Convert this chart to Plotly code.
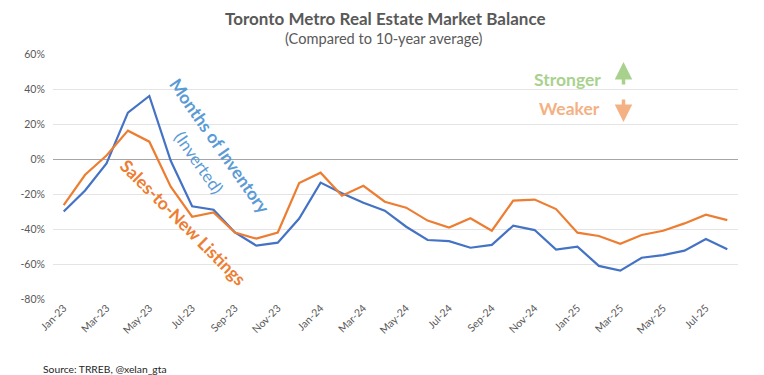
import plotly.graph_objects as go

months = ["Jan-23","Feb-23","Mar-23","Apr-23","May-23","Jun-23","Jul-23","Aug-23","Sep-23","Oct-23","Nov-23","Dec-23",
          "Jan-24","Feb-24","Mar-24","Apr-24","May-24","Jun-24","Jul-24","Aug-24","Sep-24","Oct-24","Nov-24","Dec-24",
          "Jan-25","Feb-25","Mar-25","Apr-25","May-25","Jun-25","Jul-25","Aug-25"]

months_inventory_inv = [-30, -18, -2.5, 26.5, 36, -1, -27, -29, -42, -49.5, -47.8, -34,
                        -13.5, -19.6, -25, -29.5, -38.7, -46.3, -46.9, -50.7, -49.1, -38.1, -40.6, -51.8,
                        -50.1, -61.1, -63.8, -56.4, -54.9, -52.4, -45.7, -51.6]

sales_to_new_listings = [-26.3, -9, 2, 16.2, 9.9, -15.8, -33, -30.5, -42, -45.5, -42, -13.7,
                         -7.8, -21, -15.3, -24.4, -27.8, -35.2, -39.2, -33.9, -41, -23.8, -23.2, -28.6,
                         -42.1, -44, -48.4, -43.4, -41, -36.8, -31.8, -34.9]

tick_labels = months[::2]
y_ticks = [-80, -60, -40, -20, 0, 20, 40, 60]
y_tick_text = ["-80%", "-60%", "-40%", "-20%", "0%", "20%", "40%", "60%"]

FONT = "Lato"
GREY = "#595959"

fig = go.Figure()
fig.add_trace(go.Scatter(x=months, y=months_inventory_inv, mode="lines",
                         line=dict(color="#4472C4", width=2.2), name="Months of Inventory (Inverted)"))
fig.add_trace(go.Scatter(x=months, y=sales_to_new_listings, mode="lines",
                         line=dict(color="#ED7D31", width=2.2), name="Sales-to-New Listings"))

# target plot area in page pixels: x 50..738, y 54..299 (page body has an 8px margin)
L, R, T, B = 50, 738, 54, 299
W, H = 764, 375
OFF = 8

def px(x):
    return (x - L) / (R - L)

def py(y):
    return (B - y) / (B - T)

ann = []
ann.append(dict(text="<b>Toronto Metro Real Estate Market Balance</b>", x=px(384), y=py(18.5), xref="paper", yref="paper",
                showarrow=False, borderpad=0, font=dict(family=FONT, size=17, color=GREY), xanchor="center", yanchor="middle"))
ann.append(dict(text="(Compared to 10-year average)", x=px(382), y=py(38), xref="paper", yref="paper",
                showarrow=False, font=dict(family=FONT, size=14.6, color=GREY), xanchor="center", yanchor="middle"))
ann.append(dict(text="Source: TRREB, @xelan_gta", x=px(38), y=py(369), xref="paper", yref="paper",
                showarrow=False, font=dict(family=FONT, size=10.3, color="#262626"), xanchor="left", yanchor="middle"))
ann.append(dict(text="<b>Months of Inventory</b>", x=px(218), y=py(146), xref="paper", yref="paper",
                showarrow=False, textangle=55, font=dict(family=FONT, size=17.5, color="#5B9BD5"),
                xanchor="center", yanchor="middle"))
ann.append(dict(text="(Inverted)", x=px(197), y=py(162), xref="paper", yref="paper",
                showarrow=False, textangle=55, font=dict(family=FONT, size=17, color="#5B9BD5"),
                xanchor="center", yanchor="middle"))
ann.append(dict(text="<b>Sales-to-New Listings</b>", x=px(181), y=py(222), xref="paper", yref="paper",
                showarrow=False, textangle=45, font=dict(family=FONT, size=17.5, color="#ED7D31"),
                xanchor="center", yanchor="middle"))
ann.append(dict(text="<b>Stronger</b>", x=px(567), y=py(79), xref="paper", yref="paper",
                showarrow=False, font=dict(family=FONT, size=17.5, color="#A9D18E"), xanchor="center", yanchor="middle"))
ann.append(dict(text="<b>Weaker</b>", x=px(569), y=py(108), xref="paper", yref="paper",
                showarrow=False, font=dict(family=FONT, size=17.5, color="#F4B183"), xanchor="center", yanchor="middle"))
ann.append(dict(text="", x=px(623), y=py(62), xref="paper", yref="paper", showarrow=True,
                ax=0, ay=24, arrowhead=2, arrowsize=1, arrowwidth=3.5, arrowcolor="#A9D18E"))
ann.append(dict(text="", x=px(623), y=py(122), xref="paper", yref="paper", showarrow=True,
                ax=0, ay=-24, arrowhead=2, arrowsize=1, arrowwidth=3.5, arrowcolor="#F4B183"))

fig.update_layout(
    width=W, height=H,
    margin=dict(l=L - OFF, r=W - R + OFF, t=T - OFF, b=H - B + OFF),
    plot_bgcolor="white", paper_bgcolor="white",
    showlegend=False,
    font=dict(family=FONT, color=GREY),
    annotations=ann,
    xaxis=dict(type="category", tickmode="array", tickvals=tick_labels, ticktext=tick_labels,
               tickangle=-45, showgrid=False, showline=False, zeroline=False, ticks="",
               tickfont=dict(family=FONT, size=10.5, color=GREY), range=[-0.5, len(months) - 0.5]),
    yaxis=dict(range=[-80, 60], tickmode="array", tickvals=y_ticks, ticktext=y_tick_text,
               showgrid=True, gridcolor="#E4E4E4", ticks="outside", ticklen=5, tickcolor="rgba(0,0,0,0)",
               gridwidth=1, zeroline=True, zerolinecolor="#A6A6A6", zerolinewidth=1.3, showline=False,
               tickfont=dict(family=FONT, size=10.5, color=GREY)),
)

fig.write_html("out.html")
